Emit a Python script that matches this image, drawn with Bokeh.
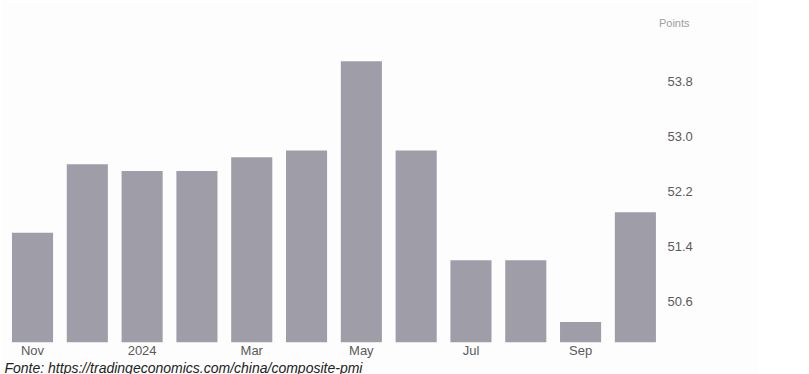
from bokeh.plotting import figure
from bokeh.models import Range1d, FixedTicker, LinearAxis, Title, NumeralTickFormatter
from bokeh.embed import file_html
from bokeh.resources import INLINE

months = ["Nov", "Dec", "Jan", "Feb", "Mar", "Apr", "May", "Jun", "Jul", "Aug", "Sep", "Oct"]
values = [51.6, 52.6, 52.5, 52.5, 52.7, 52.8, 54.1, 52.8, 51.2, 51.2, 50.3, 51.9]
tick_positions = [0, 2, 4, 6, 8, 10]
tick_labels = ["Nov", "2024", "Mar", "May", "Jul", "Sep"]
y_ticks = [50.6, 51.4, 52.2, 53.0, 53.8]
y_start, y_end = 50.0, 54.55
source_text = "Fonte: https://tradingeconomics.com/china/composite-pmi"

idx = list(range(len(months)))

p = figure(frame_width=650, frame_height=312, output_backend="svg", toolbar_location=None,
           x_range=Range1d(-0.42, 11.44), y_range=Range1d(y_start, y_end),
           min_border_left=9, min_border_top=30, min_border_right=100, min_border_bottom=32,
           background_fill_color="#fdfdfd", border_fill_color="#fdfdfd")
p.outline_line_color = None
p.grid.visible = False
p.yaxis.visible = False

p.vbar(x=idx, top=values, bottom=y_start, width=0.75, fill_color="#9f9ea8", line_color=None)

# x axis
xa = p.xaxis[0]
xa.ticker = FixedTicker(ticks=tick_positions)
xa.major_label_overrides = {t: l for t, l in zip(tick_positions, tick_labels)}
xa.axis_line_color = None
xa.major_tick_line_color = None
xa.minor_tick_line_color = None
xa.major_tick_out = 0
xa.major_tick_in = 0
xa.major_label_text_font = "Liberation Sans"
xa.major_label_text_font_size = "13px"
xa.major_label_text_color = "#5a5a5a"
xa.major_label_standoff = 0

# right axis
ra = LinearAxis(ticker=FixedTicker(ticks=y_ticks), formatter=NumeralTickFormatter(format="0.0"))
ra.axis_line_color = None
ra.major_tick_line_color = None
ra.minor_tick_line_color = None
ra.major_tick_out = 0
ra.major_tick_in = 0
ra.major_label_text_font = "Liberation Sans"
ra.major_label_text_font_size = "13px"
ra.major_label_text_color = "#5a5a5a"
ra.major_label_standoff = 8
p.add_layout(ra, "right")

# "Points" label above
pts = Title(text="Points", align="right", text_font="Liberation Sans", text_font_size="11px",
            text_color="#a0a0a0", text_font_style="normal", offset=-30, standoff=4)
p.add_layout(pts, "above")

# Source
src = Title(text=source_text, align="left",
            text_font="Liberation Sans", text_font_size="14px", text_color="#222222",
            text_font_style="italic", offset=-5, standoff=-6)
p.add_layout(src, "below")

open("out.html", "w").write(file_html(p, INLINE))
